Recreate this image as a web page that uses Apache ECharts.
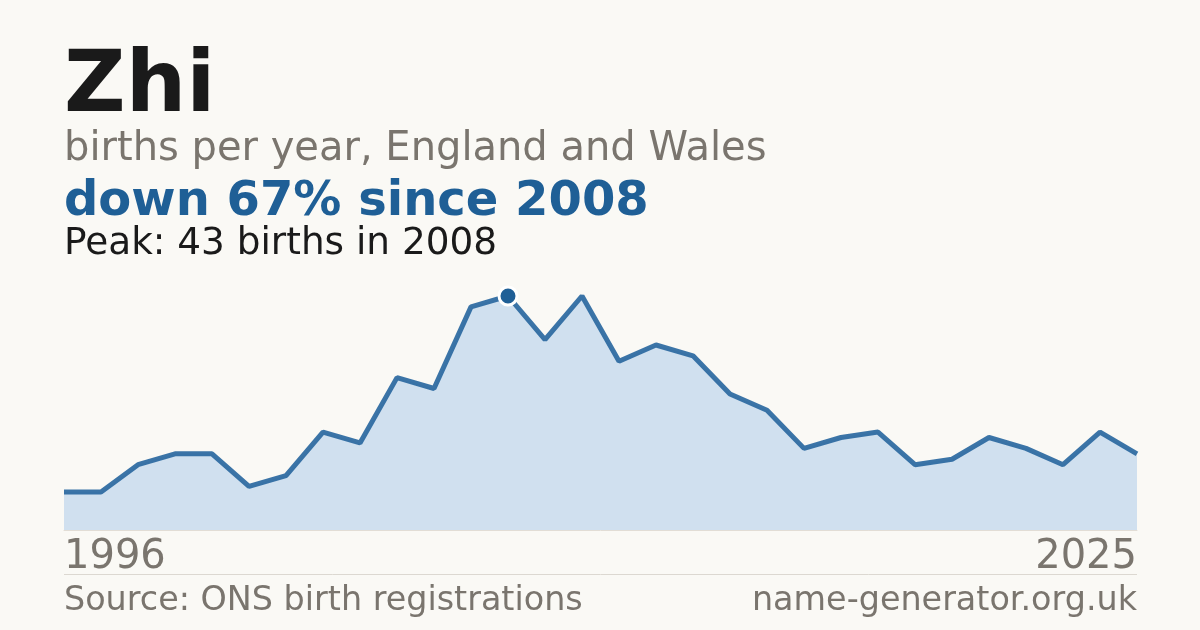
<!DOCTYPE html>
<html><head><meta charset="utf-8">
<script src="https://cdn.jsdelivr.net/npm/echarts@6/dist/echarts.min.js"></script>
<style>html,body{margin:0;padding:0;background:#faf9f5}#c{width:1200px;height:630px}</style>
</head><body><div id="c"></div>
<script>
const years = ['1996','1997','1998','1999','2000','2001','2002','2003','2004','2005','2006','2007','2008','2009','2010','2011','2012','2013','2014','2015','2016','2017','2018','2019','2020','2021','2022','2023','2024','2025'];
const births = [7,7,12,14,14,8,10,18,16,28,26,41,43,35,43,31,34,32,25,22,15,17,18,12,13,17,15,12,18,14];
const peakIndex = 12;
const titleText = 'Zhi';
const subtitleText = 'births per year, England and Wales';
const changeText = 'down 67% since 2008';
const peakText = 'Peak: 43 births in 2008';
const sourceText = 'Source: ONS birth registrations';
const siteText = 'name-generator.org.uk';

const FONT = 'DejaVu Sans';
const chart = echarts.init(document.getElementById('c'));
const seriesData = births.map((v, i) => i === peakIndex ? {
  value: v, symbol: 'circle', symbolSize: 18,
  itemStyle: {color: '#1f5f96', borderColor: '#ffffff', borderWidth: 3}
} : {value: v, symbol: 'none'});

function txt(x, y, text, size, color, weight, align) {
  return {type: 'text', x: x, y: y, style: {text: text, fontFamily: FONT, fontSize: size, lineHeight: size,
    fill: color, fontWeight: weight || 'normal', align: align || 'left', verticalAlign: 'top'}};
}

chart.setOption({
  backgroundColor: '#faf9f5',
  animation: false,
  grid: {left: 64, right: 63, top: 296, bottom: 100},
  xAxis: {
    type: 'category', data: years, boundaryGap: false,
    axisLine: {show: true, lineStyle: {color: '#e2ddd5', width: 1}},
    axisTick: {show: false},
    splitLine: {show: false},
    axisLabel: {
      interval: (i) => i === 0 || i === years.length - 1,
      fontFamily: FONT, fontSize: 40, color: '#7a756e', margin: 8,
      alignMinLabel: 'left', alignMaxLabel: 'right', showMinLabel: true, showMaxLabel: true
    }
  },
  yAxis: {type: 'value', min: 0, max: 43, show: false, splitLine: {show: false}},
  series: [{
    type: 'line', data: seriesData, clip: false, showSymbol: true, symbol: 'none',
    lineStyle: {color: '#2a68a0', width: 5, opacity: 0.92},
    areaStyle: {color: '#d0e0ef', opacity: 1},
    z: 3
  }],
  graphic: [
    txt(64, 46.5, titleText, 85, '#1a1a1a', 'bold'),
    txt(64, 129.4, subtitleText, 40, '#7a756e'),
    txt(64, 178.2, changeText, 48, '#1f5f96', 'bold'),
    txt(64, 225.2, peakText, 37.4, '#1a1a1a'),
    {type: 'line', shape: {x1: 64, y1: 574.5, x2: 1137, y2: 574.5}, style: {stroke: '#dcd8d1', lineWidth: 1}},
    txt(64, 584.9, sourceText, 33.4, '#7a756e'),
    txt(1137, 584.9, siteText, 33.4, '#7a756e', 'normal', 'right')
  ]
});
</script></body></html>
